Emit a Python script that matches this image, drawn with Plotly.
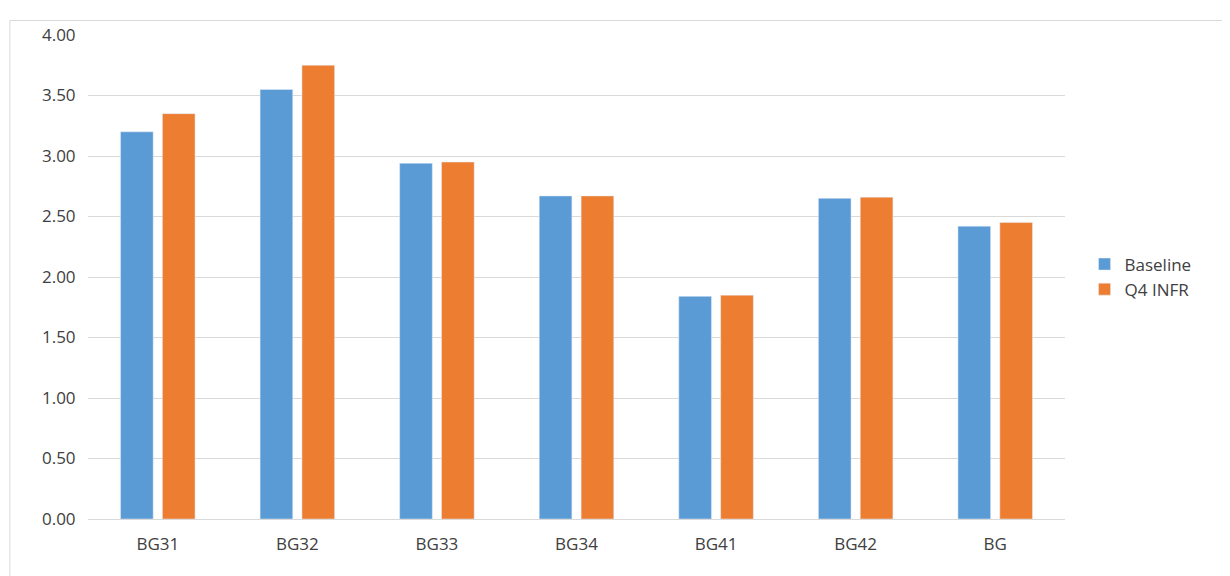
import plotly.graph_objects as go

categories = ["BG31", "BG32", "BG33", "BG34", "BG41", "BG42", "BG"]
baseline = [3.20, 3.55, 2.94, 2.67, 1.84, 2.65, 2.42]
q4_infr = [3.35, 3.75, 2.95, 2.67, 1.85, 2.66, 2.45]
y_ticks = [0, 0.5, 1, 1.5, 2, 2.5, 3, 3.5, 4]

fig = go.Figure()
fig.add_bar(x=categories, y=baseline, name="Baseline", marker_color="#5B9BD5")
fig.add_bar(x=categories, y=q4_infr, name="Q4 INFR", marker_color="#ED7D31")

fig.update_layout(
    width=1230, height=576,
    paper_bgcolor="white", plot_bgcolor="white",
    font=dict(family="Open Sans, Liberation Sans, sans-serif", size=17, color="#404040"),
    margin=dict(l=80, r=173, t=27, b=65),
    barmode="group", bargap=0.4, bargroupgap=0.22,
    legend=dict(x=1.02, y=0.5, yanchor="middle", font=dict(size=17), traceorder="normal"),
    showlegend=True,
    shapes=[dict(type="rect", xref="paper", yref="paper", x0=-0.08, x1=1.2, y0=-0.15, y1=1.03,
                 line=dict(color="#D9D9D9", width=1))],
)
fig.update_yaxes(range=[0, 4], tickvals=y_ticks, tickformat=".2f", gridcolor="#D9D9D9",
                 zeroline=False, showline=False, ticks="outside", ticklen=8, tickcolor="rgba(0,0,0,0)")
fig.update_xaxes(showline=True, linecolor="#D9D9D9", ticks="outside", ticklen=10, tickcolor="rgba(0,0,0,0)")
fig.write_html("out.html")
